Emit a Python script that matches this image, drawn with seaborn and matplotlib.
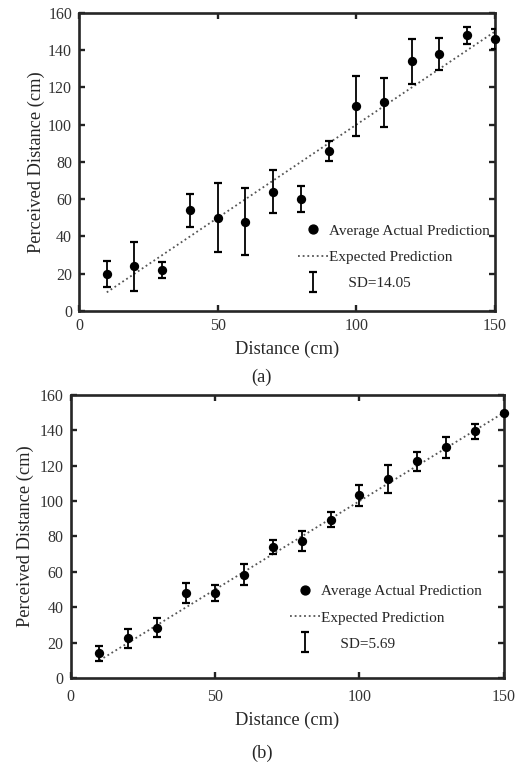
import matplotlib
matplotlib.use("Agg")
import matplotlib.pyplot as plt
from matplotlib.lines import Line2D
from matplotlib.container import ErrorbarContainer
from matplotlib.collections import LineCollection
from matplotlib.legend_handler import HandlerErrorbar
import seaborn as sns
import pandas as pd

# ── Data ───────────────────────────────────────────────────────
distance = [10, 20, 30, 40, 50, 60, 70, 80, 90, 100, 110, 120, 130, 140, 150]

perceived_a = [20, 24, 22, 54, 50, 48, 64, 60, 86, 110, 112, 134, 138, 148, 146]
sd_a = [7, 13.3, 4.5, 8.8, 18.5, 18, 11.6, 7, 5.3, 16, 13, 12, 8.4, 4.6, 5.4]
sd_total_a = "SD=14.05"

perceived_b = [14, 22.4, 28.4, 48.2, 48.2, 58.3, 74.3, 77.3, 89.4, 103.3, 112.5, 122.5, 130.4, 139.4, 150]
sd_b = [4.3, 5.4, 5.3, 5.6, 4.5, 5.9, 4, 5.7, 4.2, 5.9, 8, 5.4, 5.9, 4.1, 0]
sd_total_b = "SD=5.69"

expected = distance  # perfect prediction y = x

# ── Style ──────────────────────────────────────────────────────
sns.set_style("ticks")
plt.rcParams["font.family"] = ["Liberation Serif", "DejaVu Serif"]

fig = plt.figure(figsize=(5.27, 7.65), dpi=100)
ax_a = fig.add_axes([0.150, 0.5935, 0.789, 0.3895])
ax_b = fig.add_axes([0.134, 0.1137, 0.822, 0.370])

DOT = (0, (1, 1.6))


def draw_panel(ax, y, sd, sd_label, legend_anchor, tickpad, xlabelpad, ylabelpad):
    df = pd.DataFrame({"Distance": distance, "Perceived": y, "Expected": expected})
    sns.lineplot(data=df, x="Distance", y="Expected", ax=ax, color="#555555",
                 linestyle=DOT, linewidth=1.3, zorder=2)
    ax.errorbar(df["Distance"], df["Perceived"], yerr=sd, fmt="none",
                ecolor="black", elinewidth=1.3, capsize=3, capthick=1.6, zorder=3)
    sns.scatterplot(data=df, x="Distance", y="Perceived", ax=ax, color="black",
                    s=45, edgecolor="black", linewidth=0, zorder=4, clip_on=False)

    ax.set_xlim(0, 150)
    ax.set_ylim(0, 160)
    ax.set_xticks([0, 50, 100, 150])
    ax.set_yticks(range(0, 161, 20))
    ax.tick_params(direction="in", length=4, width=1.7, top=True, right=True,
                   labelsize=11.5, colors="#222222", labelcolor="#333333")
    ax.tick_params(axis="x", pad=tickpad)
    ax.tick_params(axis="y", pad=5)
    for s in ax.spines.values():
        s.set_linewidth(1.9)
        s.set_color("#262626")
    ax.set_xlabel("Distance (cm)", fontsize=13.2, labelpad=xlabelpad)
    ax.set_ylabel("Perceived Distance (cm)", fontsize=13.2, labelpad=ylabelpad)

    # legend handles
    h_dot = Line2D([], [], marker="o", linestyle="none", color="black", markersize=6.4)
    h_line = Line2D([], [], color="#555555", linestyle=DOT, linewidth=1.3)
    bar_line = Line2D([], [], linestyle="none")
    bar_seg = LineCollection([[(0, 0), (0, 1)]], colors="black", linewidths=1.3)
    cap = Line2D([], [], marker="_", linestyle="none", color="black",
                 markersize=6, markeredgewidth=1.6)
    h_err = ErrorbarContainer((bar_line, (cap, cap), (bar_seg,)),
                              has_xerr=False, has_yerr=True)
    ax.legend([h_dot, h_line, h_err],
              ["Average Actual Prediction", "Expected Prediction", "     " + sd_label],
              handler_map={ErrorbarContainer: HandlerErrorbar(yerr_size=0.65)},
              loc="upper left", bbox_to_anchor=legend_anchor, frameon=False,
              fontsize=11, handlelength=1.95, handletextpad=0.1,
              labelspacing=0.82, borderaxespad=0, borderpad=0)


draw_panel(ax_a, perceived_a, sd_a, sd_total_a, (0.526, 0.292), 5, 5, 2)
draw_panel(ax_b, perceived_b, sd_b, sd_total_b, (0.506, 0.33), 8, 5, 4)

fig.text(0.497, 0.507, "(a)", ha="center", va="center", fontsize=13.2)
fig.text(0.497, 0.0157, "(b)", ha="center", va="center", fontsize=13.2)

fig.savefig("out.png", dpi=100)
